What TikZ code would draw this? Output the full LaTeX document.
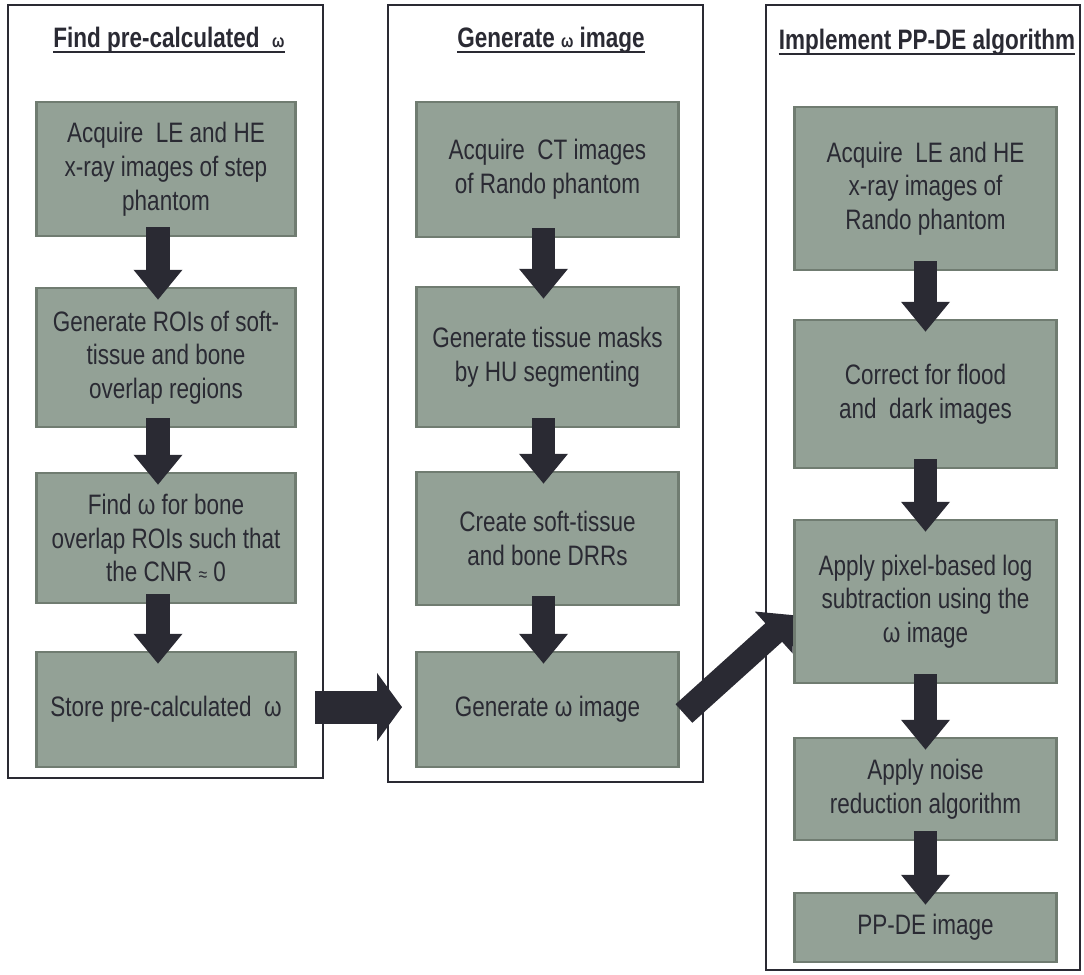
\documentclass[tikz,border=0pt]{standalone}
\usepackage{fontspec}
\setmainfont{Liberation Sans}[FakeStretch=0.8]
\usetikzlibrary{arrows.meta}

\definecolor{boxfill}{RGB}{147,161,150}
\definecolor{boxline}{RGB}{112,124,113}
\definecolor{ink}{RGB}{42,42,51}

\tikzset{
  stepbox/.style={draw=boxline, fill=boxfill, line width=2pt, text=ink,
    align=center, inner sep=0pt, font=\fontsize{20}{24}\selectfont},
  head/.style={text=ink, anchor=base, inner sep=0pt,
    font=\bfseries\fontsize{20}{22}\selectfont},
  panel/.style={draw=ink, line width=1.8pt},
  down/.style={draw=ink, line width=0.575cm,
    -{Triangle[width=1.175cm,length=0.75cm]}},
  across/.style={draw=ink, line width=0.825cm,
    -{Triangle[width=1.675cm,length=0.625cm]}},
  slant/.style={draw=ink, line width=0.625cm,
    -{Triangle[width=1.375cm,length=0.65cm]}},
}
\newcommand{\smw}{{\fontsize{13}{13}\selectfont ω}}

\begin{document}
\begin{tikzpicture}[x=0.025cm, y=-0.025cm]
\useasboundingbox (0,0) rectangle (1084,974);

% three panels
\draw[panel] (8,5) rectangle (323,778);
\draw[panel] (388,5) rectangle (703,782);
\draw[panel] (766,5) rectangle (1080,970);

\node[head] (h1) at (169,47) {Find pre-calculated \ \smw};
\node[head] (h2) at (551,47) {Generate \smw\ image};
\node[head] (h3) at (927,49) {Implement PP-DE algorithm};
\foreach \h in {h1,h2,h3}
  \draw[ink, line width=1.3pt] ([yshift=-0.12cm]\h.base west) -- ([yshift=-0.12cm]\h.base east);

% panel 1
\node[stepbox, minimum width=6.48cm, minimum height=3.35cm] (f1) at (166,169)
  {Acquire \ LE and HE\\x-ray images of step\\phantom};
\node[stepbox, minimum width=6.48cm, minimum height=3.475cm] (f2) at (166,357.5)
  {Generate ROIs of soft-\\tissue and bone\\overlap regions};
\node[stepbox, minimum width=6.48cm, minimum height=3.25cm] (f3) at (166,538)
  {Find ω for bone\\overlap ROIs such that\\the CNR {\fontsize{14}{14}\selectfont ≈} 0};
\node[stepbox, minimum width=6.48cm, minimum height=2.875cm] (f4) at (166,709.5)
  {Store pre-calculated \ ω};

% panel 2
\node[stepbox, minimum width=6.55cm, minimum height=3.375cm] (g1) at (547.5,169.5)
  {Acquire \ CT images\\of Rando phantom};
\node[stepbox, minimum width=6.55cm, minimum height=3.5cm] (g2) at (547.5,357)
  {Generate tissue masks\\by HU segmenting};
\node[stepbox, minimum width=6.55cm, minimum height=3.325cm] (g3) at (547.5,538.5)
  {Create soft-tissue\\and bone DRRs};
\node[stepbox, minimum width=6.55cm, minimum height=2.875cm] (g4) at (547.5,709.5)
  {Generate ω image};

% panel 3
\node[stepbox, minimum width=6.55cm, minimum height=4.075cm] (i1) at (925.5,188.5)
  {Acquire \ LE and HE\\x-ray images of\\Rando phantom};
\node[stepbox, minimum width=6.55cm, minimum height=3.7cm] (i2) at (925.5,394)
  {Correct for flood\\and \ dark images};
\node[stepbox, minimum width=6.55cm, minimum height=4.075cm] (i3) at (925.5,601.5)
  {Apply pixel-based log\\subtraction using the\\ω image};
\node[stepbox, minimum width=6.55cm, minimum height=2.55cm] (i4) at (925.5,789)
  {Apply noise\\reduction algorithm};
\node[stepbox, minimum width=6.55cm, minimum height=1.725cm] (i5) at (925.5,927.5)
  {PP-DE image};

% arrows
\foreach \a/\b/\dx in {f1/f2/-0.2, f2/f3/-0.2, f3/f4/-0.2,
                       g1/g2/-0.1, g2/g3/-0.1, g3/g4/-0.1,
                       i1/i2/0, i2/i3/0, i3/i4/0, i4/i5/0}
  \draw[down] ([xshift=\dx cm, yshift=0.25cm]\a.south) -- ([xshift=\dx cm, yshift=-0.33cm]\b.north);

\draw[across] ([xshift=0.45cm, yshift=0.06cm]f4.east) -- ([xshift=-0.325cm, yshift=0.06cm]g4.west);
\draw[slant] ([xshift=0.1cm, yshift=-0.1cm]g4.east) -- ([yshift=-0.34cm]i3.west);
\end{tikzpicture}
\end{document}
